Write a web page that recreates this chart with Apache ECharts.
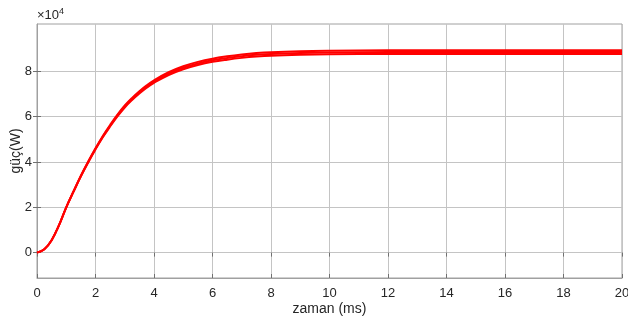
<!DOCTYPE html>
<html><head><meta charset="utf-8">
<script src="https://cdn.jsdelivr.net/npm/echarts@6/dist/echarts.min.js"></script>
<style>html,body{margin:0;padding:0;background:#fff}#c{width:628px;height:320px}</style>
</head><body><div id="c"></div>
<script>
// time in ms
const time = [0,0.25,0.5,0.75,1,1.25,1.5,1.75,2,2.25,2.5,2.75,3,3.25,3.5,3.75,4,4.5,5,5.5,6,6.5,7,7.5,8,9,10,12,14,16,18,20];
// power in W (centre of the trace)
const power = [0,1500,5500,12000,20000,27000,33800,40000,45800,51200,56000,60500,64500,67800,70700,73300,75500,79000,81600,83500,84900,85900,86700,87300,87700,88100,88300,88500,88500,88500,88500,88500];
// half-width of the ripple band (W)
const ripple = [0,0,0,0,0,100,150,200,250,300,350,400,450,480,500,520,550,600,650,680,700,730,750,770,780,800,800,800,800,800,800,800];
const xTicks = [0,2,4,6,8,10,12,14,16,18,20];
const yTicks = [0,20000,40000,60000,80000];

const center = time.map((t,i)=>[t,power[i]]);
const lower = time.map((t,i)=>[t,power[i]-ripple[i]]);
const upper = time.map((t,i)=>[t,power[i]+ripple[i]]);

const ff = 'Liberation Sans, Arial, sans-serif';
const red = '#ff0000';
const chart = echarts.init(document.getElementById('c'));
chart.setOption({
  animation:false,
  grid:{left:37,right:6,top:24,bottom:42,outerBoundsMode:'none',containLabel:false,show:true,borderColor:'#a0a0a0',borderWidth:1},
  graphic:[
    {type:'text',left:37,top:7,style:{text:'×10{s|4}',rich:{s:{fontSize:9,verticalAlign:'top',padding:[0,0,8,0],fill:'#262626',fontFamily:ff}},font:'13px '+ff,fill:'#262626'}},
  ],
  xAxis:[{
    type:'value',min:0,max:20,interval:2,
    name:'zaman (ms)',nameLocation:'middle',nameGap:24,nameMoveOverlap:false,
    nameTextStyle:{fontSize:14,color:'#262626',fontFamily:ff},
    axisLine:{show:true,onZero:false,lineStyle:{color:'#a0a0a0'}},
    axisTick:{show:true,inside:true,length:4,lineStyle:{color:'#707070'}},
    axisLabel:{fontSize:13,color:'#262626',fontFamily:ff,margin:9},
    splitLine:{show:true,lineStyle:{color:'#c4c4c4',width:1}}
  },{
    type:'value',position:'top',min:0,max:20,interval:2,
    axisLine:{show:false},axisLabel:{show:false},splitLine:{show:false},
    axisTick:{show:true,inside:true,length:4,lineStyle:{color:'#707070'}}
  }],
  yAxis:[{
    type:'value',min:-11200,max:100900,
    name:'güç(W)',nameLocation:'middle',nameGap:14,nameMoveOverlap:false,
    nameTextStyle:{fontSize:14,color:'#262626',fontFamily:ff},
    axisLine:{show:true,onZero:false,lineStyle:{color:'#a0a0a0'}},
    axisTick:{show:true,inside:true,length:4,customValues:yTicks,lineStyle:{color:'#707070'}},
    axisLabel:{fontSize:13,color:'#262626',fontFamily:ff,margin:5,customValues:yTicks,formatter:v=>String(v/10000)},
    splitLine:{show:true,lineStyle:{color:'#c4c4c4',width:1}}
  },{
    type:'value',position:'right',min:-11200,max:100900,
    axisLine:{show:false},axisLabel:{show:false},splitLine:{show:false},
    axisTick:{show:true,inside:true,length:4,customValues:yTicks,lineStyle:{color:'#707070'}}
  }],
  series:[
    {type:'line',data:lower,smooth:0.4,symbol:'none',lineStyle:{color:red,width:2},silent:true},
    {type:'line',data:upper,smooth:0.4,symbol:'none',lineStyle:{color:red,width:2},silent:true},
    {type:'line',data:center,smooth:0.4,symbol:'none',lineStyle:{color:red,width:2}}
  ]
});
</script></body></html>
